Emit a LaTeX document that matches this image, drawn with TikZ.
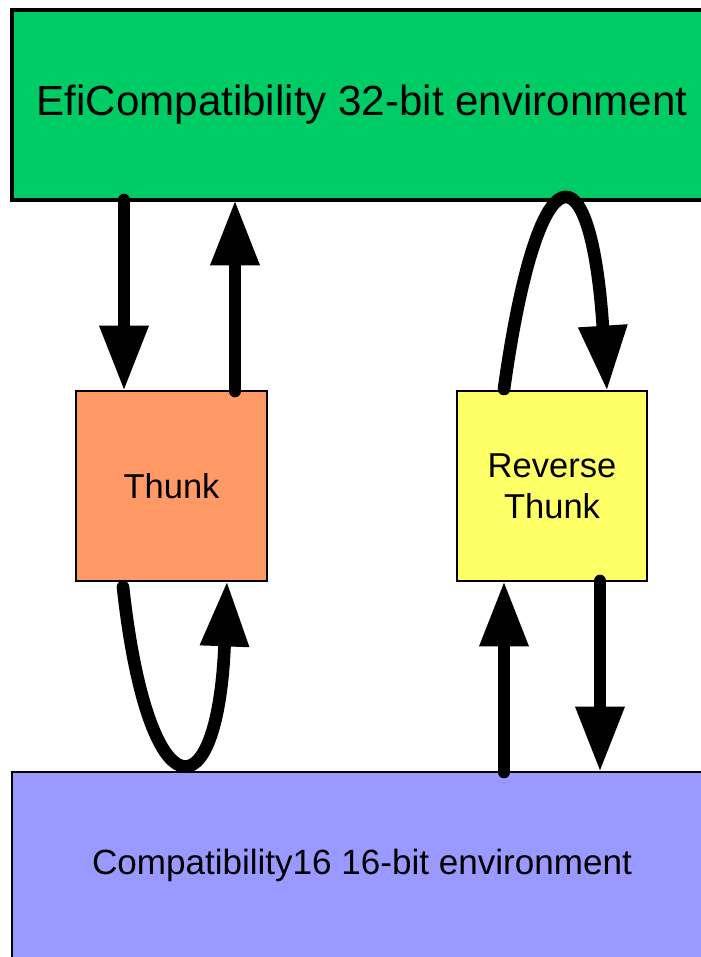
\documentclass[tikz,border=0pt]{standalone}
\usepackage{fontspec}
\setmainfont{Liberation Sans}
\usetikzlibrary{arrows.meta,calc}
\definecolor{topgreen}{RGB}{0,204,102}
\definecolor{thunkorange}{RGB}{255,153,102}
\definecolor{revyellow}{RGB}{255,255,102}
\definecolor{botblue}{RGB}{153,153,255}
\begin{document}
\begin{tikzpicture}[x=0.75pt,y=-0.75pt,
  box/.style={draw=black,line width=1.1pt,inner sep=0pt,outer sep=0pt,align=center},
  arr/.style={line width=9.5pt,line cap=round,-{Triangle[length=49pt,width=34.5pt]}}]
\useasboundingbox (0,0) rectangle (700,957);
\node[box,fill=topgreen,line width=2.4pt,minimum width=525pt,minimum height=142.5pt,
      font=\fontsize{31.6}{36}\selectfont] (top) at (362,105) {EfiCompatibility 32-bit environment};
\node[box,fill=botblue,minimum width=525pt,minimum height=139.5pt,
      font=\fontsize{26.3}{31}\selectfont] (bot) at (362,865) {Compatibility16 16-bit environment};
\node[box,fill=thunkorange,minimum width=143.25pt,minimum height=142.5pt,
      font=\fontsize{25.9}{30.75}\selectfont] (thunk) at (171.5,486) {Thunk};
\node[box,fill=revyellow,minimum width=142.5pt,minimum height=142.5pt,
      font=\fontsize{25.9}{30.75}\selectfont] (rev) at (552,486) {Reverse\\Thunk};
% endpoints
\coordinate (l1) at ($(thunk.north west)+(48,0)$);
\coordinate (l2) at ($(thunk.north west)+(159,0)$);
\coordinate (r1) at ($(rev.north west)+(47,-2)$);
\coordinate (r2) at ($(rev.north west)+(150,0)$);
\coordinate (b1) at ($(thunk.south west)+(47,6)$);
\coordinate (b2) at ($(thunk.south west)+(151,0)$);
\coordinate (c1) at ($(rev.south west)+(47,0)$);
\coordinate (c2) at ($(rev.south west)+(143,0)$);
% arrows
\draw[arr] (l1 |- top.south) -- (l1);
\draw[arr] (l2) -- (l2 |- top.south);
\draw[arr] (r1) .. controls +(34,-244) and +(-16,-248) .. (r2);
\draw[arr] (b1) .. controls +(25,228) and +(-9,236) .. (b2);
\draw[arr] (c1 |- bot.north) -- (c1);
\draw[arr] (c2) -- (c2 |- bot.north);
\end{tikzpicture}
\end{document}
